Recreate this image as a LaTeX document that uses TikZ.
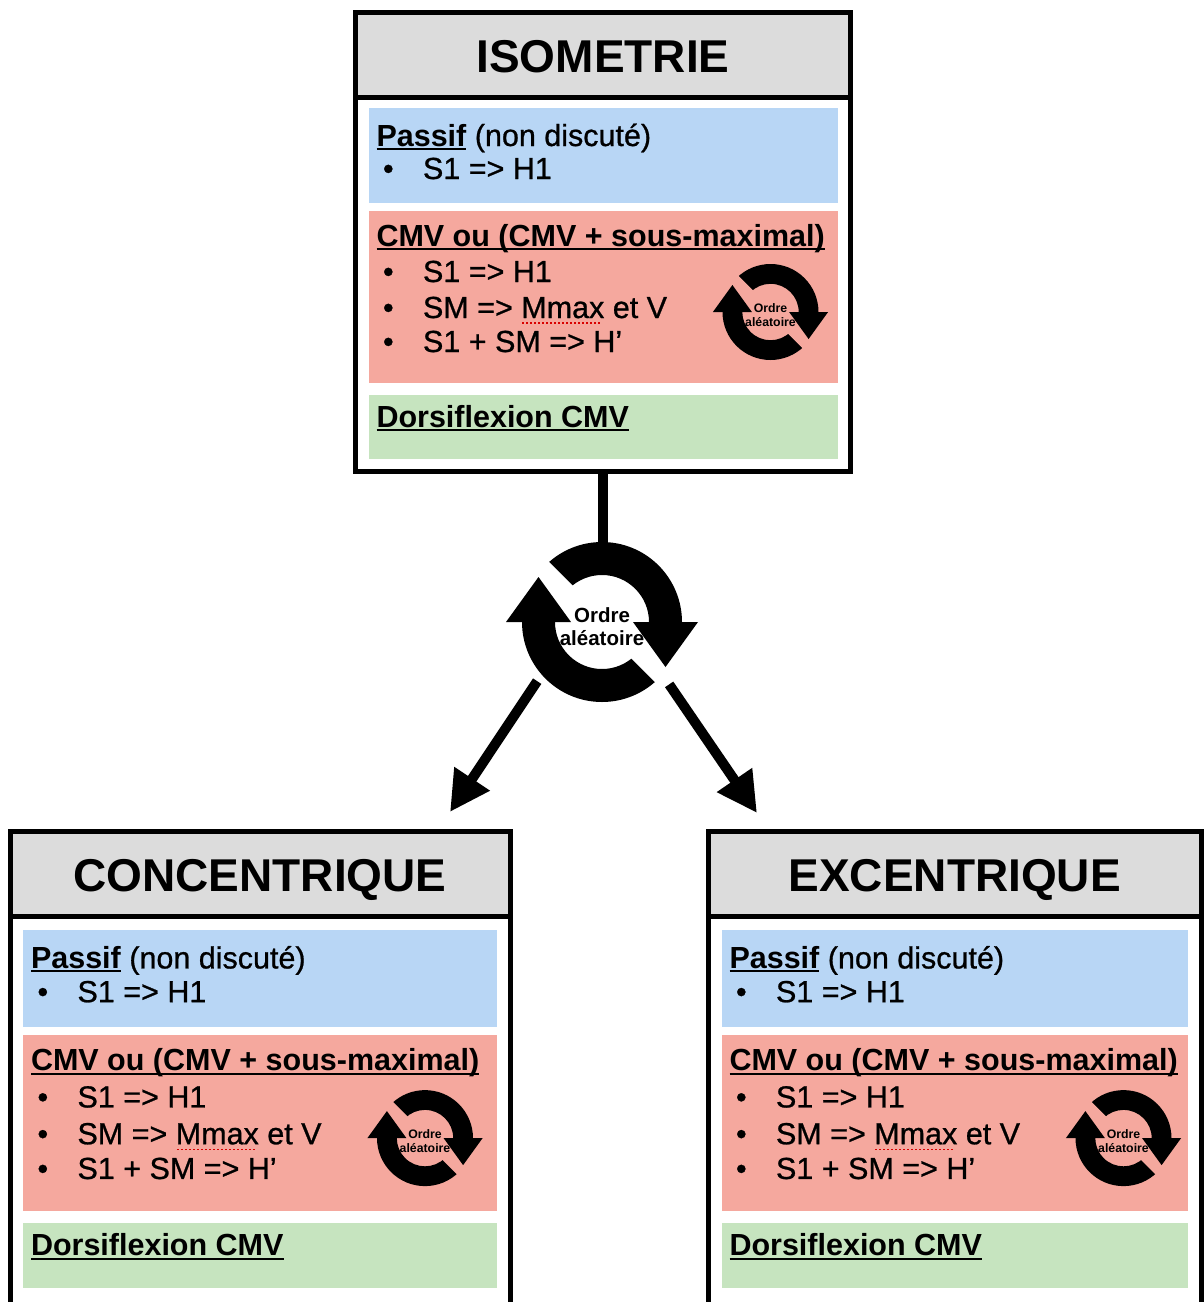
\documentclass[tikz,border=0pt]{standalone}
\usepackage{fontspec}
\setmainfont{Liberation Sans}[UprightFeatures={FakeBold=0.8}]
\usetikzlibrary{arrows.meta,calc}
\definecolor{hdrc}{HTML}{DCDCDC}
\definecolor{bluec}{HTML}{B8D6F5}
\definecolor{redc}{HTML}{F5A89E}
\definecolor{greenc}{HTML}{C6E4BF}
\newsavebox\ulbox
\newcommand\myul[1]{\sbox\ulbox{#1}\rlap{\rule[-4pt]{\wd\ulbox}{2pt}}\usebox\ulbox}
\newcommand\squig[1]{\sbox\ulbox{#1}\rlap{\raisebox{-6pt}{\color{red!85!black}\hbox to\wd\ulbox{\leaders\hbox to 4pt{\hss\rule{2pt}{1.6pt}\hss}\hfill}}}\usebox\ulbox}
\newcommand\bul{\makebox[40pt][l]{\textbullet}}
\tikzset{
  txt/.style={inner sep=0pt, outer sep=0pt, font=\fontsize{30.5}{35}\selectfont, anchor=base west},
  ttl/.style={inner sep=0pt, outer sep=0pt, font=\fontsize{46}{50}\selectfont\bfseries, anchor=base},
  panelbox/.style={draw=black, line width=5pt, inner sep=0pt, outer sep=0pt, anchor=north west},
  conn/.style={line width=10pt, draw=black},
  arr/.style={conn, -{Triangle[length=40pt,width=40pt]}},
  rndcycle/.pic={
    \fill[black] (135:80) arc[start angle=135,end angle=0,radius=80] -- (0:47) arc[start angle=0,end angle=135,radius=47] -- cycle;
    \fill[black] (180:80) arc[start angle=180,end angle=315,radius=80] -- (315:47) arc[start angle=315,end angle=180,radius=47] -- cycle;
    \fill[black] (31,0) -- (96,0) -- (63.5,-45) -- cycle;
    \fill[black] (-96,0) -- (-31,0) -- (-63.5,45) -- cycle;
    \fill[#1, rotate=-45] (-118,-5) rectangle (118,5);
    \node[font=\bfseries\fontsize{20.5}{23}\selectfont, align=center, transform shape, inner sep=0pt] at (0,-5) {Ordre\\aléatoire};
  }
}
% #1 name, #2 X, #3 Y (image coords, downward), #4 width, #5 title, #6 vertical factor, #7 height
\newcommand\panel[7]{%
  \fill[hdrc] (#2,-#3) rectangle ({#2+#4},{-(#3+85)});
  \fill[bluec] ({#2+13},{-(#3+96*#6)}) rectangle ({#2+#4-13},{-(#3+191*#6)});
  \fill[redc] ({#2+13},{-(#3+199*#6)}) rectangle ({#2+#4-13},{-(#3+371*#6)});
  \fill[greenc] ({#2+13},{-(#3+383*#6)}) rectangle ({#2+#4-13},{-(#3+447*#6)});
  \draw[line width=5pt] (#2,{-(#3+85)}) -- ({#2+#4},{-(#3+85)});
  \node[ttl] (#1-t) at ({#2+#4/2},{-(#3+60)}) {#5};
  \node[txt] (#1-a) at ({#2+21},{-(#3+134*#6)}) {{\bfseries\myul{Passif}} (non discuté)};
  \node[txt] (#1-b) at ({#2+27.5},{-(#3+167*#6)}) {\bul S1 => H1};
  \node[txt] (#1-c) at ({#2+21},{-(#3+234*#6)}) {\bfseries\myul{CMV ou (CMV + sous-maximal)}};
  \node[txt] (#1-d) at ({#2+27.5},{-(#3+270*#6)}) {\bul S1 => H1};
  \node[txt] (#1-e) at ({#2+27.5},{-(#3+306*#6)}) {\bul SM => \squig{Mmax} et V};
  \node[txt] (#1-f) at ({#2+27.5},{-(#3+340*#6)}) {\bul S1 + SM => H’};
  \node[txt] (#1-g) at ({#2+21},{-(#3+415*#6)}) {\bfseries\myul{Dorsiflexion CMV}};
  \pic[scale=0.6] at ({#2+415},{-(#3+300*#6)}) {rndcycle=redc};
  \node[panelbox, minimum width=#4, minimum height=#7] (#1) at (#2,-#3) {};
}
\begin{document}
\begin{tikzpicture}[x=1pt,y=1pt]
  \useasboundingbox (0,0) rectangle (1204,-1302);
  \fill[white] (0,0) rectangle (1204,-1302);
  \panel{topbox}{355.5}{12}{495}{ISOMETRIE}{1}{459}
  \panel{conc}{10}{831.5}{500}{CONCENTRIQUE}{1.022}{600}
  \panel{exc}{708.5}{831.5}{492.5}{EXCENTRIQUE}{1.022}{600}
  \pic at (602,-622) {rndcycle=white};
  \node[circle, minimum size=160pt, inner sep=0pt, outer sep=0pt] (cyc) at (602,-622) {};
  \coordinate (tipL) at (450,-812);
  \coordinate (tipR) at (757,-813);
  \draw[conn] (topbox.south) -- (topbox.south |- cyc.north);
  \draw[arr, shorten <=8pt] (cyc.221) -- (tipL);
  \draw[arr, shorten <=12pt] (cyc.-41) -- (tipR);
\end{tikzpicture}
\end{document}
